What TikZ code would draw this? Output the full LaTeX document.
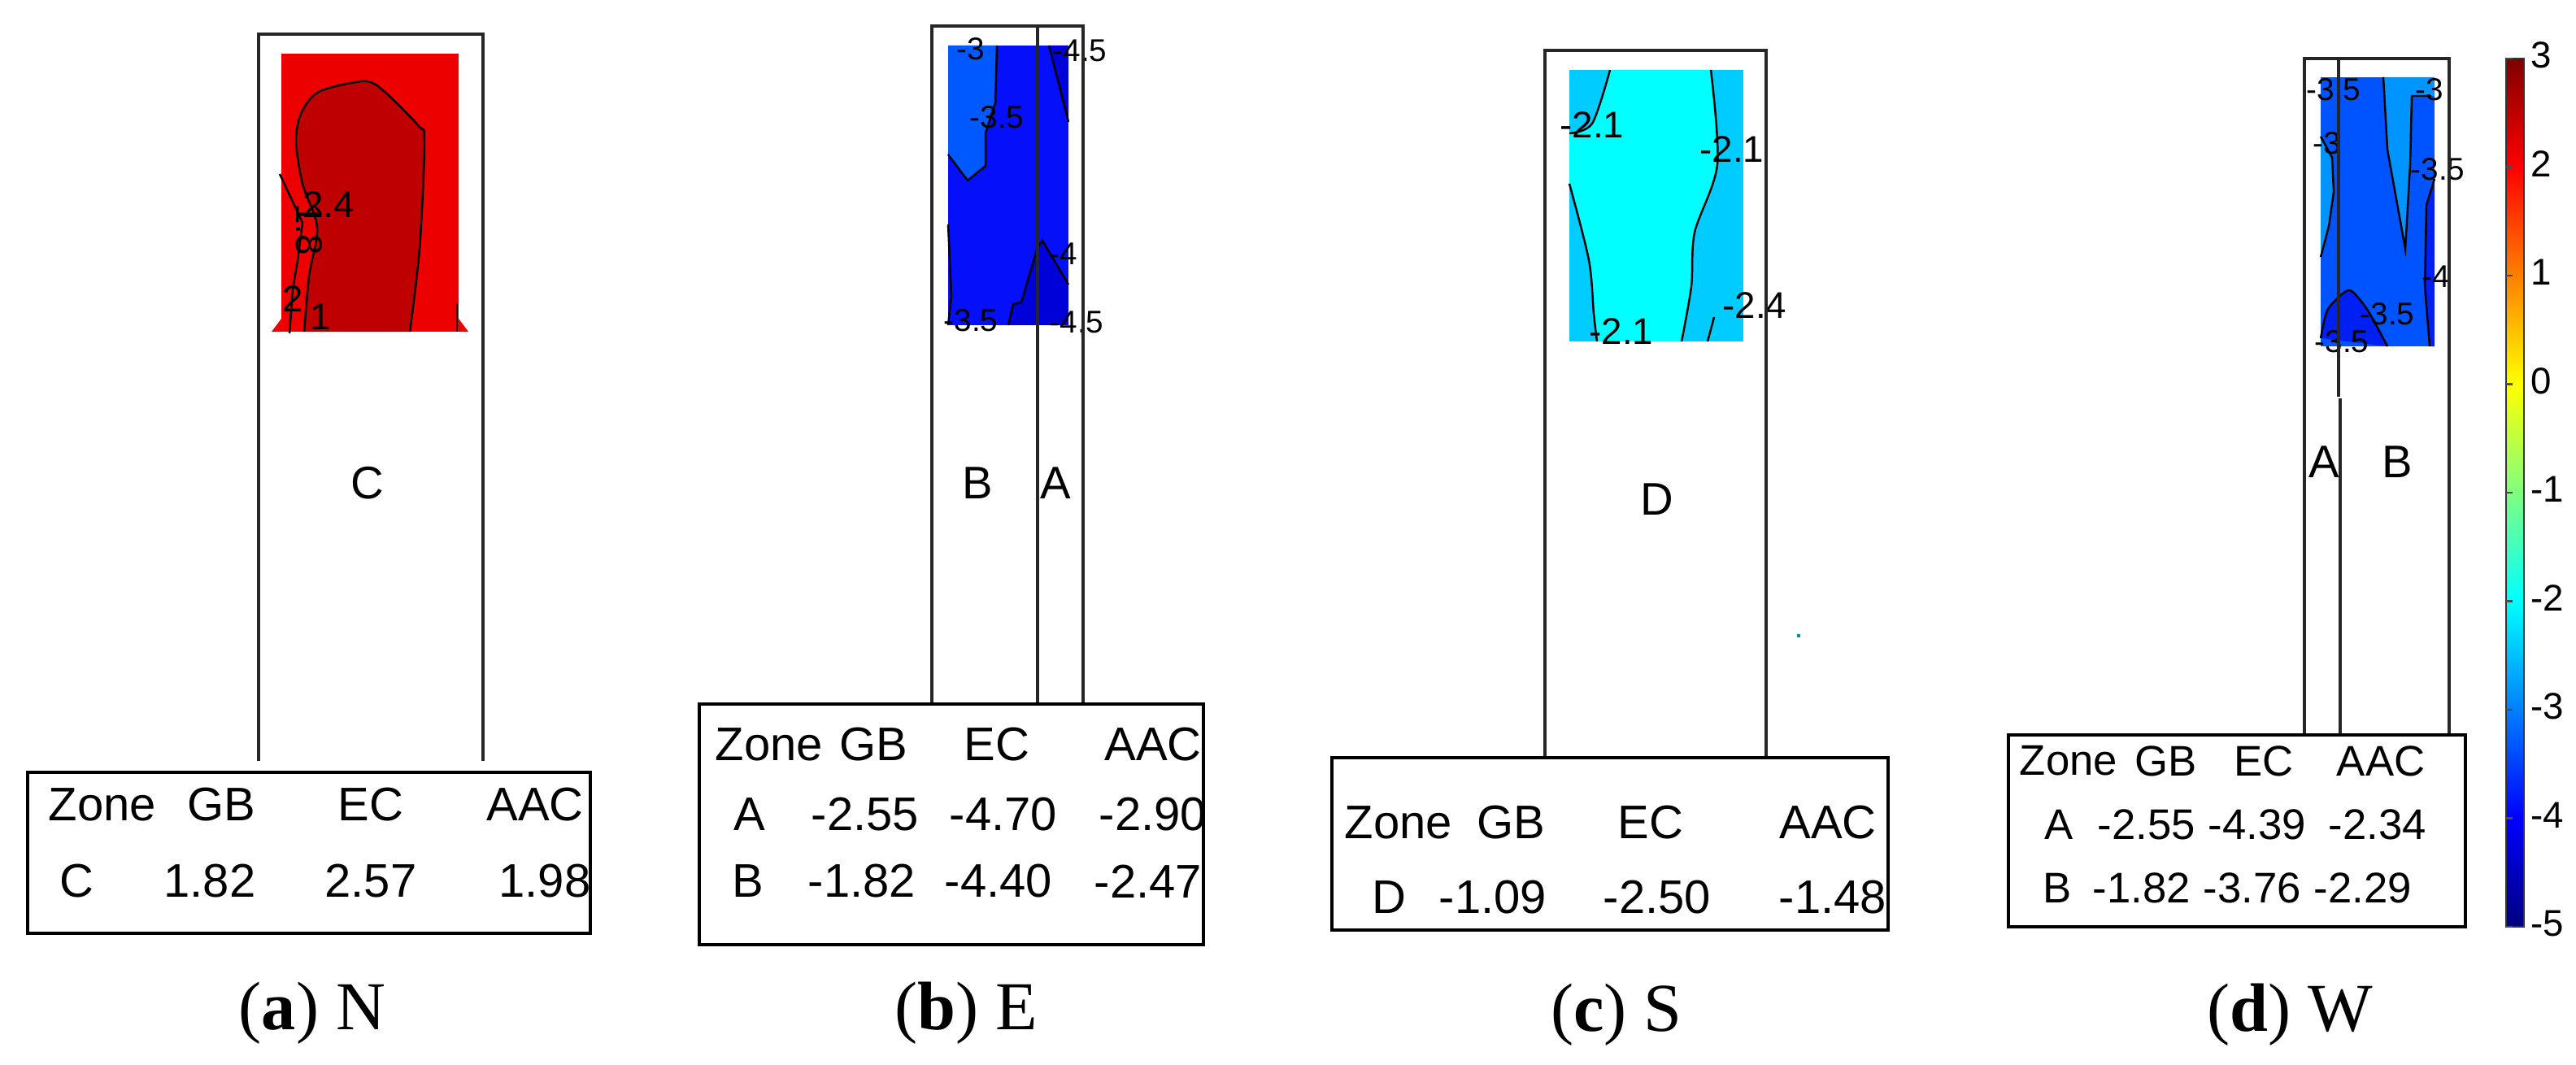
\documentclass[tikz,border=0pt]{standalone}
\usepackage{fontspec}
\setmainfont{Liberation Serif}
\newfontfamily\tabfont{Liberation Sans}
\pgfdeclareverticalshading{jetmap}{100bp}{rgb(0bp)=(0,0,0.5); rgb(25bp)=(0,0,0.5); rgb(31.25bp)=(0,0,1); rgb(43.75bp)=(0,1,1); rgb(56.25bp)=(1,1,0); rgb(68.75bp)=(1,0,0); rgb(75bp)=(0.5,0,0); rgb(100bp)=(0.5,0,0)}
\definecolor{redA}{rgb}{0.93,0,0}
\definecolor{redB}{rgb}{0.75,0,0}
\definecolor{blueB}{rgb}{0.02,0.06,0.98}
\definecolor{blueBl}{rgb}{0.0,0.35,1}
\definecolor{blueBd}{rgb}{0.0,0.0,0.85}
\definecolor{cyanC}{rgb}{0,1,1}
\definecolor{cyanCo}{rgb}{0,0.8,1}
\definecolor{blueD}{rgb}{0.0,0.33,1}
\definecolor{blueDl}{rgb}{0.0,0.58,1}
\definecolor{blueDd}{rgb}{0.0,0.12,0.95}
\begin{document}
\begin{tikzpicture}[x=0.02cm,y=-0.02cm,
  bld/.style={draw=black!85,line width=1.1pt},
  tab/.style={draw=black,line width=1.1pt},
  cl/.style={draw=black,line width=0.7pt},
  tt/.style={font=\tabfont\fontsize{16.5}{18}\selectfont,inner sep=0pt},
  td/.style={font=\tabfont\fontsize{15}{17}\selectfont,inner sep=0pt},
  lab/.style={font=\tabfont\fontsize{16}{18}\selectfont,inner sep=0pt},
  ct/.style={font=\tabfont\fontsize{11}{11}\selectfont,inner sep=0pt},
  captxt/.style={font=\fontsize{24}{28}\selectfont,inner sep=0pt}]
\useasboundingbox (0,0) rectangle (1584,655);
% ---------- (a) N
\fill[redA] (173,33) rectangle (282,204);
\fill[redA] (173,196)--(167,204)--(173,204)--cycle (282,196)--(288,204)--(282,204)--cycle;
\fill[redB] plot[smooth] coordinates {(187,204)(190,170)(195,140)(186,113)(182,87)(185,70)(195,57)(216,51)(231,52)(257,77)(261,87)(258,153)(252,204)} -- cycle;
\draw[cl] plot[smooth] coordinates {(187,204)(190,170)(195,140)(186,113)(182,87)(185,70)(195,57)(216,51)(231,52)(257,77)(261,87)(258,153)(252,204)};
\draw[cl] (172,107)--(186,137)--(183,160)--(180,178)--(178,205);
\draw[cl] (281,187)--(281,204);
\node[ct,font=\tabfont\fontsize{13}{13}\selectfont] (a1) at (202,126) {2.4};
\node[ct,font=\tabfont\fontsize{13}{13}\selectfont,rotate=-90] (a2) at (190,141) {1.8};
\node[ct,font=\tabfont\fontsize{13}{13}\selectfont] (a3) at (180,184) {2};
\node[ct,font=\tabfont\fontsize{13}{13}\selectfont] (a4) at (197,195) {1};
\draw[bld] (159,468)--(159,21)--(297,21)--(297,468);
\node[lab] (aC) at (226,297) {C};
\draw[tab] (17,475) rectangle (363,574);
\node[tt] (az) at (63,495) {Zone};
\node[tt] (ag) at (136,495) {GB};
\node[tt] (ae) at (228,495) {EC};
\node[tt] (aa) at (329,495) {AAC};
\node[tt] (ar) at (47,542) {C};
\node[tt] (a5) at (129,542) {1.82};
\node[tt] (a6) at (228,542) {2.57};
\node[tt] (a7) at (335,542) {1.98};
\node[captxt] (acap) at (192,623) {(\textbf{a}) N};
% ---------- (b) E
\fill[blueB] (583,28) rectangle (657,200);
\fill[blueBl] (583,28)--(613,28)--(612,63)--(606,82)--(606,102)--(595,111)--(583,95)--cycle;
\draw[cl] (613,28)--(612,63)--(606,82)--(606,102)--(595,111)--(583,95);
\fill[blueBd] (645,28)--(657,28)--(657,75)--cycle;
\draw[cl] (645,28)--(657,75);
\fill[blueBd] (620,200)--(623,187)--(628,186)--(638,152)--(641,148)--(657,175)--(657,200)--cycle;
\draw[cl] (620,200)--(623,187)--(628,186)--(638,152)--(641,148)--(657,175);
\draw[cl] (583,138)--(585,182)--(583,200);
\node[ct] (b1) at (597,30) {-3};
\node[ct] (b2) at (613,72) {-3.5};
\node[ct] (b3) at (664,31) {-4.5};
\node[ct] (b4) at (654,156) {-4};
\node[ct] (b5) at (597,197) {-3.5};
\node[ct] (b6) at (662,198) {-4.5};
\draw[bld] (573,433)--(573,16)--(666,16)--(666,433);
\draw[bld] (638,16)--(638,433);
\node[lab] (bB) at (601,297) {B};
\node[lab] (bA) at (649,297) {A};
\draw[tab] (430,433) rectangle (740,581);
\node[tt] (bz) at (473,458) {Zone};
\node[tt] (bg) at (537,458) {GB};
\node[tt] (be) at (613,458) {EC};
\node[tt] (ba) at (709,458) {AAC};
\node[tt] (bra) at (461,501) {A};
\node[tt] (b7) at (532,501) {-2.55};
\node[tt] (b8) at (617,501) {-4.70};
\node[tt] (b9) at (709,501) {-2.90};
\node[tt] (brb) at (460,542) {B};
\node[tt] (b10) at (530,542) {-1.82};
\node[tt] (b11) at (614,542) {-4.40};
\node[tt] (b12) at (706,542) {-2.47};
\node[captxt] (bcap) at (594,623) {(\textbf{b}) E};
% ---------- (c) S
\fill[cyanCo] (965,43) rectangle (1072,210);
\fill[cyanC] plot[smooth] coordinates {(990,43)(979,76)(965,82)} -- (965,113) -- plot[smooth] coordinates {(965,113)(977,160)(980,193)(982,210)} -- (1034,210) -- plot[smooth] coordinates {(1034,210)(1040,176)(1042,143)(1056,101)(1052,43)} -- cycle;
\draw[cl] plot[smooth] coordinates {(990,43)(979,76)(965,82)};
\draw[cl] plot[smooth] coordinates {(965,113)(977,160)(980,193)(982,210)};
\draw[cl] plot[smooth] coordinates {(1034,210)(1040,176)(1042,143)(1056,101)(1052,43)};
\draw[cl] (1050,210)--(1054,195);
\node[ct,font=\tabfont\fontsize{13}{13}\selectfont] (c1) at (979,77) {-2.1};
\node[ct,font=\tabfont\fontsize{13}{13}\selectfont] (c2) at (1065,92) {-2.1};
\node[ct,font=\tabfont\fontsize{13}{13}\selectfont] (c3) at (997,204) {-2.1};
\node[ct,font=\tabfont\fontsize{13}{13}\selectfont] (c4) at (1079,188) {-2.4};
\draw[bld] (950,466)--(950,31)--(1086,31)--(1086,466);
\node[lab] (cD) at (1019,307) {D};
\fill[cyanCo!70!black] (1105,390) rectangle (1107,392);
\draw[tab] (819,466) rectangle (1161,572);
\node[tt] (cz) at (860,506) {Zone};
\node[tt] (cg) at (929,506) {GB};
\node[tt] (ce) at (1015,506) {EC};
\node[tt] (ca) at (1124,506) {AAC};
\node[tt] (crd) at (854,552) {D};
\node[tt] (c5) at (918,552) {-1.09};
\node[tt] (c6) at (1019,552) {-2.50};
\node[tt] (c7) at (1127,552) {-1.48};
\node[captxt] (ccap) at (994,624) {(\textbf{c}) S};
% ---------- (d) W
\fill[blueD] (1427,47.5) rectangle (1497,213);
\fill[blueDl] (1427,84)--(1434,97)--(1435,118)--(1432,139)--(1427,158)--cycle;
\draw[cl] (1427,84)--(1434,97)--(1435,118)--(1432,139)--(1427,158);
\fill[blueDl] (1465.5,47.5)--(1497,47.5)--(1497,59)--(1483,59)--(1482,101)--(1479,153)--(1468,92)--cycle;
\draw[cl] (1465.5,47.5)--(1468,92)--(1479,153)--(1482,101)--(1483,59)--(1495,59);
\fill[blueDd] (1497,110)--(1492,126)--(1491,176)--(1494,213)--(1497,213)--cycle;
\draw[cl] (1497,110)--(1492,126)--(1491,176)--(1494,213);
\fill[blueDd] plot[smooth] coordinates {(1427,208)(1431,191)(1440,181)(1446,179)(1456,191)(1468,213)} -- cycle;
\draw[cl] plot[smooth] coordinates {(1427,208)(1431,191)(1440,181)(1446,179)(1456,191)(1468,213)};
\node[ct] (d1) at (1435,55) {-3.5};
\node[ct] (d2) at (1431,88) {-3};
\node[ct] (d3) at (1494,55) {-3};
\node[ct] (d4) at (1499,104) {-3.5};
\node[ct] (d5) at (1498,170) {-4};
\node[ct] (d6) at (1468,193) {-3.5};
\node[ct] (d7) at (1440,210) {-3.5};
\draw[bld] (1417,452)--(1417,36)--(1506,36)--(1506,452);
\draw[bld] (1438,36)--(1438,244);
\draw[bld] (1439,245)--(1439,452);
\node[lab] (dA) at (1429,284) {A};
\node[lab] (dB) at (1474,284) {B};
\draw[tab] (1235,452) rectangle (1516,570);
\node[td] (dz) at (1272,468) {Zone};
\node[td] (dg) at (1332,468) {GB};
\node[td] (de) at (1392,468) {EC};
\node[td] (da) at (1464,468) {AAC};
\node[td] (dra) at (1266,507) {A};
\node[td] (d8) at (1320,507) {-2.55};
\node[td] (d9) at (1388,507) {-4.39};
\node[td] (d10) at (1462,507) {-2.34};
\node[td] (drb) at (1265,546) {B};
\node[td] (d11) at (1317,546) {-1.82};
\node[td] (d12) at (1385,546) {-3.76};
\node[td] (d13) at (1453,546) {-2.29};
\node[captxt] (dcap) at (1408,624) {(\textbf{d}) W};
% ---------- colour bar
\shade[shading=jetmap] (1541,36) rectangle (1552,570);
\draw[black!80,line width=0.8pt] (1541,36) rectangle (1552,570);
\foreach \k/\v in {0/3,1/2,2/1,3/0,4/-1,5/-2,6/-3,7/-4,8/-5}{
  \draw[black!70,line width=0.6pt] (1541,36+\k*66.75)--(1545,36+\k*66.75);
  \node[ct,anchor=west,font=\tabfont\fontsize{13}{13}\selectfont] (cb\k) at (1556,34+\k*66.75) {\v};
}
\end{tikzpicture}
\end{document}
